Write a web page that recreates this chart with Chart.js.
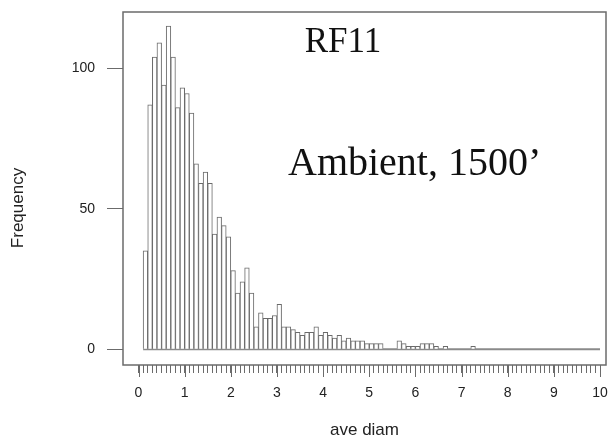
<!DOCTYPE html>
<html lang="en">
<head>
<meta charset="UTF-8">
<title>RF11 ave diam</title>
<script src="https://cdn.jsdelivr.net/npm/chart.js@4.4.3/dist/chart.umd.min.js"></script>
<style>
  html, body { margin: 0; padding: 0; background: #fff; }
</style>
</head>
<body>
<canvas id="hist" width="610" height="446"></canvas>
<script>
// lower edge of each 0.1 wide bin
const binStarts = [
  0.1, 0.2, 0.3, 0.4, 0.5, 0.6, 0.7, 0.8, 0.9, 1.0,
  1.1, 1.2, 1.3, 1.4, 1.5, 1.6, 1.7, 1.8, 1.9, 2.0,
  2.1, 2.2, 2.3, 2.4, 2.5, 2.6, 2.7, 2.8, 2.9, 3.0,
  3.1, 3.2, 3.3, 3.4, 3.5, 3.6, 3.7, 3.8, 3.9, 4.0,
  4.1, 4.2, 4.3, 4.4, 4.5, 4.6, 4.7, 4.8, 4.9, 5.0,
  5.1, 5.2, 5.3, 5.4, 5.5, 5.6, 5.7, 5.8, 5.9, 6.0,
  6.1, 6.2, 6.3, 6.4, 6.5, 6.6, 6.7, 6.8, 6.9, 7.0,
  7.1, 7.2
];
// frequency in each bin
const counts = [
  35, 87, 104, 109, 94, 115, 104, 86, 93, 91,
  84, 66, 59, 63, 59, 41, 47, 44, 40, 28,
  20, 24, 29, 20, 8, 13, 11, 11, 12, 16,
  8, 8, 7, 6, 5, 6, 6, 8, 5, 6,
  5, 4, 5, 3, 4, 3, 3, 3, 2, 2,
  2, 2, 0, 0, 0, 3, 2, 1, 1, 1,
  2, 2, 2, 1, 0, 1, 0, 0, 0, 0,
  0, 1
];
const binWidth = 0.1;
const firstBreak = 0.1;
const lastBreak = 10;   // empty bins run on to 10
const xTickLabels = [0, 1, 2, 3, 4, 5, 6, 7, 8, 9, 10];
const yTickValues = [0, 50, 100];

const ink = '#6b6b6b';
const labelFont = { family: '"Liberation Sans", Arial, sans-serif', size: 14 };

// box round the plot, long marks on whole units, the two notes and y title
const frame = {
  id: 'frame',
  afterDraw(chart) {
    const { ctx, chartArea: a, scales: { x } } = chart;
    ctx.save();
    ctx.strokeStyle = ink;
    ctx.lineWidth = 1.5;
    ctx.strokeRect(a.left, a.top, a.right - a.left, a.bottom - a.top);

    ctx.lineWidth = 1;
    xTickLabels.forEach(v => {
      const px = Math.round(x.getPixelForValue(v)) + 0.5;
      ctx.beginPath();
      ctx.moveTo(px, a.bottom);
      ctx.lineTo(px, a.bottom + 12);
      ctx.stroke();
    });

    ctx.fillStyle = '#111';
    ctx.textBaseline = 'alphabetic';
    ctx.font = '35px "Liberation Serif", "Times New Roman", serif';
    ctx.textAlign = 'center';
    ctx.fillText('RF11', 343, 52);
    ctx.font = '40px "Liberation Serif", "Times New Roman", serif';
    ctx.textAlign = 'left';
    ctx.fillText('Ambient, 1500\u2019', 288, 175);

    ctx.fillStyle = '#222';
    ctx.font = '17px "Liberation Sans", Arial, sans-serif';
    ctx.translate(18, 208);
    ctx.rotate(-Math.PI / 2);
    ctx.textAlign = 'center';
    ctx.textBaseline = 'middle';
    ctx.fillText('Frequency', 0, 0);
    ctx.restore();
  }
};

const barPoints = binStarts.map((s, i) => ({ x: s + binWidth / 2, y: counts[i] }));

new Chart(document.getElementById('hist'), {
  type: 'bar',
  data: {
    datasets: [
      {
        type: 'line',
        data: [{ x: firstBreak, y: 0 }, { x: lastBreak, y: 0 }],
        borderColor: '#8a8a8a',
        borderWidth: 2,
        pointRadius: 0,
        order: 2
      },
      {
        data: barPoints,
        backgroundColor: '#ffffff',
        borderColor: '#6a6a6a',
        borderWidth: 1,
        barPercentage: 1,
        categoryPercentage: 1,
        order: 1
      }
    ]
  },
  options: {
    responsive: false,
    devicePixelRatio: 1,
    animation: false,
    layout: { padding: { left: 0, top: 12, right: 4, bottom: 0 } },
    plugins: {
      legend: { display: false },
      tooltip: { enabled: false }
    },
    scales: {
      x: {
        type: 'linear',
        min: -0.336,
        max: 10.13,
        offset: false,
        border: { display: false },
        grid: { drawOnChartArea: false, offset: false, tickLength: 8, color: ink },
        ticks: {
          stepSize: 0.1,
          autoSkip: false,
          maxRotation: 0,
          padding: 12,
          color: '#222',
          font: labelFont,
          callback: v => Math.abs(v - Math.round(v)) < 1e-6 ? String(Math.round(v)) : ''
        },
        afterBuildTicks: s => {
          s.ticks = s.ticks.filter(t => t.value > -1e-6 && t.value < lastBreak + 1e-6);
        },
        afterFit: s => {
          s.height = 81;
          s.paddingLeft = 0;
          s.paddingRight = 0;
        },
        title: {
          display: true,
          text: 'ave diam',
          color: '#222',
          font: { family: '"Liberation Sans", Arial, sans-serif', size: 17 },
          padding: { top: 0, bottom: 5 }
        }
      },
      y: {
        min: -5.6,
        max: 120,
        border: { display: false },
        grid: { drawOnChartArea: false, tickLength: 16, color: ink },
        ticks: { padding: 12, color: '#222', font: labelFont },
        afterBuildTicks: s => {
          s.ticks = yTickValues.map(v => ({ value: v }));
        },
        afterFit: s => {
          s.width = 123;
          s.paddingTop = 0;
          s.paddingBottom = 0;
        }
      }
    }
  },
  plugins: [frame]
});
</script>
</body>
</html>
